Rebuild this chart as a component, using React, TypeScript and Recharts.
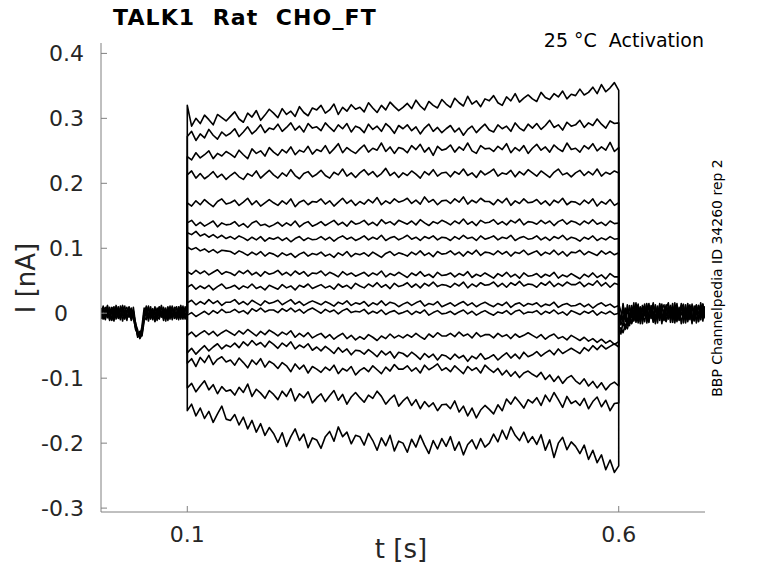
import React from 'react';
import { LineChart, Line, XAxis, YAxis } from 'recharts';

// ---- sampling times [s] ----
const preT = [0, 0.0025, 0.005, 0.0075, 0.01, 0.0125, 0.015, 0.0175, 0.02, 0.0225, 0.025, 0.0275, 0.03, 0.0325, 0.035, 0.0375, 0.04, 0.0425, 0.045, 0.0475, 0.05, 0.0525, 0.055, 0.0575, 0.06, 0.0625, 0.065, 0.0675, 0.07, 0.0725, 0.075, 0.0775, 0.08, 0.0825, 0.085, 0.0875, 0.09, 0.0925, 0.095, 0.0975, 0.1];
const postT = [0.6, 0.6025, 0.605, 0.6075, 0.61, 0.6125, 0.615, 0.6175, 0.62, 0.6225, 0.625, 0.6275, 0.63, 0.6325, 0.635, 0.6375, 0.64, 0.6425, 0.645, 0.6475, 0.65, 0.6525, 0.655, 0.6575, 0.66, 0.6625, 0.665, 0.6675, 0.67, 0.6725, 0.675, 0.6775, 0.68, 0.6825, 0.685, 0.6875, 0.69, 0.6925, 0.695, 0.6975, 0.7];
const pulseT = [0.1, 0.105, 0.11, 0.115, 0.12, 0.125, 0.13, 0.135, 0.14, 0.145, 0.15, 0.155, 0.16, 0.165, 0.17, 0.175, 0.18, 0.185, 0.19, 0.195, 0.2, 0.205, 0.21, 0.215, 0.22, 0.225, 0.23, 0.235, 0.24, 0.245, 0.25, 0.255, 0.26, 0.265, 0.27, 0.275, 0.28, 0.285, 0.29, 0.295, 0.3, 0.305, 0.31, 0.315, 0.32, 0.325, 0.33, 0.335, 0.34, 0.345, 0.35, 0.355, 0.36, 0.365, 0.37, 0.375, 0.38, 0.385, 0.39, 0.395, 0.4, 0.405, 0.41, 0.415, 0.42, 0.425, 0.43, 0.435, 0.44, 0.445, 0.45, 0.455, 0.46, 0.465, 0.47, 0.475, 0.48, 0.485, 0.49, 0.495, 0.5, 0.505, 0.51, 0.515, 0.52, 0.525, 0.53, 0.535, 0.54, 0.545, 0.55, 0.555, 0.56, 0.565, 0.57, 0.575, 0.58, 0.585, 0.59, 0.595, 0.6];

const PULSE_ON = 0.1;
const PULSE_OFF = 0.6;
const HOLD_PA = 0;

// ---- baseline current before the step [pA] ----
const preA = [3, -8, 6, -4, 9, -10, 2, 7, -6, 11, -3, -9, 5, -1, 8, -7, -22, -33, -28, -35, -12, 6, -5, 10, -8, 3, -11, 7, -2, 9, -6, 4, -9, 11, -4, 2, -10, 8, -1, 5, 0];
const preB = [-5, 7, -2, 10, -9, 4, -6, 12, -3, -8, 6, 1, -11, 8, -4, 3, -18, -29, -36, -24, -6, -10, 9, -3, 5, -12, 8, -1, 10, -7, 2, -9, 6, -3, 9, -8, 4, 12, -6, -2, 3];
const preC = [8, -3, -10, 5, 1, 9, -7, -2, 10, -5, 4, 11, -7, -3, 6, -10, -14, -37, -30, -26, 3, 9, -7, 1, -10, 7, 4, -6, 12, -4, -9, 8, 1, -7, 6, 10, -3, -9, 7, 1, -4];
const preD = [-2, 11, -6, 3, -11, 6, 10, -9, 1, 7, -12, 5, 9, -6, 2, -4, -25, -31, -38, -20, 8, -3, 11, -9, 4, -1, -7, 10, -5, 3, 8, -11, 4, 9, -8, -3, 10, -6, 3, -9, 2];
const preE = [6, -9, 1, 12, -5, -11, 8, -3, 5, -10, 9, -6, 2, 10, -8, 4, -20, -35, -32, -30, -9, 11, -2, -8, 7, -13, 2, 9, -6, 5, -12, 10, -4, 6, 1, -9, 7, -4, 11, -7, -1];
const preF = [-9, 4, 9, -7, 6, 1, -12, 5, -8, 3, 12, -4, -8, 4, -11, 9, -16, -26, -39, -33, -2, 4, -12, 6, -4, 10, -5, -9, 3, -11, 6, -3, 11, -10, 3, 7, -6, 1, -9, 10, -3];

// ---- baseline current after the step [pA] ----
const postA = [-28, -22, -30, -18, -24, -12, -16, -6, -10, 2, -8, 12, -4, 9, -12, 6, 14, -7, 3, -11, 10, -3, 13, -9, 5, -14, 8, 1, -10, 15, -5, 7, -13, 4, 11, -8, -1, 12, -6, 9, -2];
const postB = [10, -14, 15, -9, 6, -16, 12, -3, 16, -11, 4, -7, 14, -15, 1, 9, -12, 13, -5, 8, -16, 3, 11, -8, -2, 15, -12, 6, -4, 12, -15, 2, 9, -10, 14, -6, 5, -13, 16, -3, 7];
const postC = [-5, -18, -9, -21, -13, -4, -15, 5, -8, 11, -13, 7, -2, 15, -10, 3, -14, 10, -6, 13, -1, -11, 8, 16, -7, 2, -15, 11, -3, 7, 14, -9, -2, 10, -14, 6, 13, -7, 1, -12, 8];
const postD = [14, 3, -10, 8, -19, 12, -7, 16, -14, 0, 9, -16, 5, -8, 12, -4, 16, -13, 6, -9, 14, -6, -13, 4, 12, -10, 16, -5, 9, -16, 3, -8, 15, -3, -11, 8, -15, 12, 4, -7, 11];
const postE = [-20, -32, -14, -25, -8, -19, 2, -11, 7, -15, 10, -2, -13, 6, 15, -8, 2, -16, 11, -4, 7, 13, -12, 1, 9, -7, 12, -13, 4, -2, 10, -15, 6, 13, -4, -12, 9, 1, -10, 14, -5];
const postF = [2, -9, 7, -13, 13, -5, 9, -12, 3, 14, -16, 8, 11, -6, -14, 12, -3, 7, -15, 15, -9, 5, -4, 12, -14, 9, -7, 15, -11, 1, -6, 13, -10, 7, -16, 11, 2, -12, 6, 14, -8];

// ---- currents during the voltage step [pA], one array per sweep ----
const sweep1 = [320, 288, 300, 292, 305, 298, 290, 306, 301, 296, 303,
  310, 299, 294, 308, 302, 312, 297, 305, 314, 308,
  301, 315, 306, 311, 303, 318, 309, 304, 316, 313,
  320, 308, 313, 322, 306, 317, 311, 321, 314, 317,
  310, 324, 316, 309, 320, 313, 325, 318, 312, 317,
  323, 315, 328, 319, 313, 326, 320, 316, 329, 322,
  317, 331, 324, 319, 334, 322, 327, 318, 330, 327,
  335, 324, 320, 333, 327, 338, 325, 331, 336, 330,
  326, 340, 332, 329, 338, 333, 342, 330, 337, 335,
  345, 336, 340, 348, 338, 352, 341, 347, 355, 343];
const sweep2 = [272, 280, 266, 276, 270, 283, 274, 268, 279, 273, 277,
  284, 272, 279, 287, 276, 282, 290, 278, 285, 283,
  291, 280, 286, 293, 282, 288, 279, 292, 285, 287,
  281, 293, 286, 280, 290, 284, 292, 279, 288, 285,
  278, 291, 283, 288, 280, 292, 286, 277, 289, 284,
  290, 281, 287, 276, 285, 291, 280, 286, 278, 284,
  289, 279, 285, 274, 283, 288, 278, 285, 291, 282,
  279, 290, 284, 288, 280, 293, 285, 281, 291, 285,
  292, 283, 289, 297, 286, 290, 282, 294, 288, 290,
  297, 286, 293, 289, 299, 291, 285, 296, 292, 293];
const sweep3 = [241, 236, 247, 239, 244, 250, 238, 246, 242, 249, 245,
  240, 251, 244, 238, 253, 246, 250, 242, 255, 248,
  243, 252, 247, 256, 244, 251, 248, 257, 245, 252,
  249, 258, 246, 253, 261, 247, 255, 250, 246, 253,
  259, 248, 254, 251, 262, 249, 256, 246, 255, 253,
  247, 258, 252, 260, 248, 255, 243, 257, 251, 253,
  259, 248, 256, 251, 262, 250, 246, 258, 253, 254,
  249, 257, 252, 261, 247, 255, 250, 258, 246, 254,
  260, 251, 256, 248, 259, 253, 249, 262, 252, 254,
  248, 258, 253, 261, 250, 256, 251, 263, 249, 255];
const sweep4 = [213, 219, 208, 215, 207, 212, 218, 209, 214, 206, 212,
  217, 210, 206, 215, 211, 219, 208, 214, 220, 213,
  208, 216, 211, 221, 212, 207, 215, 218, 210, 214,
  220, 212, 208, 217, 213, 222, 211, 216, 209, 216,
  221, 213, 218, 210, 215, 223, 212, 217, 209, 216,
  212, 219, 214, 208, 218, 213, 221, 211, 216, 217,
  210, 218, 214, 222, 212, 216, 209, 219, 213, 217,
  222, 211, 216, 214, 220, 210, 218, 213, 221, 216,
  211, 219, 214, 209, 217, 222, 213, 216, 210, 216,
  220, 212, 218, 213, 222, 211, 217, 214, 219, 216];
const sweep5 = [170, 165, 173, 167, 175, 169, 164, 172, 176, 168, 170,
  174, 166, 171, 177, 167, 173, 165, 170, 175, 170,
  166, 173, 168, 176, 164, 171, 174, 167, 172, 171,
  176, 168, 173, 165, 171, 177, 169, 174, 166, 172,
  168, 175, 170, 178, 167, 173, 169, 176, 171, 173,
  177, 169, 174, 168, 179, 171, 175, 167, 173, 174,
  169, 176, 171, 179, 168, 174, 170, 177, 172, 172,
  167, 175, 170, 177, 166, 173, 169, 176, 170, 171,
  175, 168, 173, 166, 174, 170, 177, 167, 172, 171,
  167, 174, 169, 176, 165, 172, 168, 175, 166, 170];
const sweep6 = [139, 143, 135, 140, 134, 138, 142, 133, 139, 136, 137,
  141, 134, 138, 132, 139, 142, 135, 137, 133, 136,
  140, 134, 139, 135, 142, 133, 138, 141, 134, 137,
  141, 135, 139, 143, 136, 140, 134, 142, 137, 139,
  143, 136, 140, 135, 144, 138, 141, 136, 143, 140,
  137, 142, 136, 144, 139, 135, 141, 138, 143, 140,
  136, 142, 138, 145, 137, 141, 135, 143, 139, 140,
  144, 137, 141, 136, 143, 139, 145, 136, 141, 140,
  137, 143, 138, 142, 135, 141, 144, 137, 142, 140,
  136, 142, 138, 144, 137, 140, 135, 142, 138, 139];
const sweep7 = [124, 121, 126, 119, 122, 117, 121, 116, 120, 115, 118,
  114, 119, 116, 112, 117, 113, 118, 111, 116, 114,
  117, 112, 116, 110, 115, 118, 112, 116, 113, 114,
  118, 113, 117, 111, 116, 119, 114, 117, 112, 115,
  119, 113, 117, 114, 120, 112, 116, 118, 113, 116,
  120, 114, 117, 112, 118, 115, 119, 113, 117, 116,
  112, 118, 114, 120, 115, 117, 112, 119, 114, 116,
  119, 113, 117, 115, 120, 112, 116, 118, 114, 115,
  119, 113, 117, 112, 118, 115, 120, 113, 117, 115,
  111, 117, 114, 119, 112, 116, 113, 118, 114, 115];
const sweep8 = [102, 98, 101, 96, 99, 94, 98, 93, 97, 96, 95,
  91, 96, 93, 89, 94, 90, 95, 88, 93, 91,
  87, 93, 89, 92, 86, 91, 94, 88, 92, 90,
  94, 88, 91, 86, 93, 89, 95, 87, 92, 90,
  93, 88, 94, 90, 86, 92, 95, 89, 93, 91,
  88, 94, 90, 96, 89, 93, 87, 95, 91, 92,
  96, 90, 94, 88, 95, 91, 97, 89, 94, 93,
  90, 96, 91, 95, 88, 94, 92, 97, 90, 93,
  96, 89, 94, 91, 97, 90, 95, 88, 94, 93,
  97, 90, 95, 92, 89, 96, 91, 95, 90, 93];
const sweep9 = [64, 60, 66, 61, 65, 59, 63, 67, 60, 64, 62,
  58, 65, 61, 66, 59, 63, 57, 64, 60, 62,
  66, 59, 63, 58, 65, 60, 64, 57, 62, 61,
  65, 58, 63, 60, 56, 64, 59, 62, 57, 60,
  63, 57, 62, 59, 65, 56, 61, 58, 63, 59,
  55, 62, 58, 64, 57, 60, 55, 63, 58, 59,
  62, 56, 61, 58, 64, 55, 60, 57, 62, 58,
  54, 61, 57, 63, 56, 60, 54, 62, 57, 58,
  61, 55, 60, 57, 63, 54, 59, 56, 61, 57,
  53, 60, 56, 62, 55, 59, 53, 61, 56, 56];
const sweep10 = [40, 44, 37, 42, 38, 43, 36, 41, 45, 38, 40,
  43, 37, 42, 39, 45, 38, 41, 36, 43, 40,
  37, 44, 39, 42, 36, 43, 40, 45, 38, 41,
  44, 39, 42, 37, 45, 40, 43, 38, 46, 42,
  39, 45, 41, 47, 40, 44, 38, 46, 41, 43,
  47, 40, 45, 39, 46, 42, 48, 41, 44, 43,
  40, 46, 42, 48, 39, 45, 41, 47, 43, 44,
  48, 41, 46, 40, 47, 43, 49, 42, 45, 44,
  40, 47, 43, 49, 41, 46, 42, 48, 44, 44,
  48, 41, 46, 43, 50, 42, 47, 40, 46, 44];
const sweep11 = [16, 20, 13, 18, 14, 21, 15, 19, 12, 17, 17,
  21, 14, 18, 13, 20, 16, 12, 19, 15, 17,
  20, 13, 17, 21, 14, 18, 12, 16, 19, 16,
  13, 18, 15, 11, 17, 14, 19, 12, 16, 14,
  18, 11, 16, 13, 19, 12, 17, 15, 10, 14,
  17, 12, 16, 19, 11, 15, 13, 18, 10, 13,
  16, 11, 15, 18, 12, 16, 10, 14, 17, 13,
  10, 15, 12, 17, 9, 14, 16, 11, 15, 13,
  16, 10, 14, 12, 17, 9, 13, 15, 11, 12,
  15, 10, 14, 8, 13, 16, 11, 14, 9, 12];
const sweep12 = [-3, 1, -5, -1, 3, -2, 4, 0, 6, 1, 2,
  6, 1, 4, -1, 7, 3, 8, 2, 5, 5,
  1, 7, 3, 8, 2, 6, 0, 5, 8, 4,
  0, 6, 2, 5, -1, 4, 7, 1, 3, 2,
  6, -1, 3, 0, 5, -2, 2, 4, -1, 1,
  4, -2, 3, 0, 5, -3, 1, 4, -1, 0,
  3, -2, 2, 5, -1, 3, -3, 1, 4, 0,
  -3, 2, 0, 4, -2, 3, 5, -1, 2, 1,
  4, -2, 3, 0, 5, -1, 2, -3, 4, 1,
  -2, 3, 0, 4, -3, 2, -1, 3, -2, 0];
const sweep13 = [-34, -29, -36, -31, -27, -33, -28, -35, -30, -26, -30,
  -34, -27, -32, -25, -30, -35, -28, -33, -26, -30,
  -35, -29, -33, -27, -37, -31, -36, -30, -38, -34,
  -31, -38, -33, -40, -35, -31, -39, -34, -41, -36,
  -40, -33, -37, -42, -35, -39, -32, -38, -34, -38,
  -33, -37, -31, -36, -40, -32, -37, -30, -35, -35,
  -31, -36, -29, -35, -32, -38, -30, -36, -33, -33,
  -38, -31, -36, -33, -39, -32, -37, -34, -30, -34,
  -38, -33, -40, -35, -32, -39, -36, -41, -34, -38,
  -42, -37, -43, -39, -45, -40, -46, -42, -48, -44];
const sweep14 = [-61, -54, -63, -56, -50, -58, -52, -47, -55, -49, -52,
  -46, -53, -44, -50, -42, -49, -45, -52, -43, -48,
  -54, -46, -51, -44, -55, -49, -53, -47, -57, -52,
  -58, -51, -56, -62, -53, -60, -55, -64, -57, -58,
  -63, -56, -61, -67, -58, -64, -59, -69, -60, -62,
  -67, -60, -65, -71, -62, -68, -63, -72, -64, -66,
  -71, -63, -69, -65, -74, -66, -70, -62, -71, -68,
  -64, -72, -66, -61, -69, -63, -70, -60, -67, -64,
  -59, -66, -61, -57, -64, -55, -62, -58, -54, -58,
  -62, -53, -58, -50, -56, -49, -55, -51, -47, -52];
const sweep15 = [-77, -70, -82, -68, -76, -65, -79, -71, -67, -75, -72,
  -80, -69, -76, -84, -72, -79, -70, -83, -74, -78,
  -85, -76, -81, -90, -78, -86, -80, -92, -82, -86,
  -91, -83, -88, -80, -93, -85, -89, -82, -95, -88,
  -84, -90, -81, -87, -93, -83, -89, -79, -86, -86,
  -81, -89, -84, -92, -80, -87, -83, -78, -88, -84,
  -90, -81, -87, -93, -82, -88, -84, -92, -80, -86,
  -91, -85, -95, -88, -97, -90, -99, -92, -89, -94,
  -98, -91, -102, -95, -105, -97, -108, -100, -96, -104,
  -109, -101, -112, -105, -115, -107, -118, -110, -106, -112];
const sweep16 = [-115, -108, -121, -112, -104, -118, -110, -124, -113, -120, -118,
  -126, -114, -122, -109, -128, -117, -123, -131, -119, -125,
  -133, -120, -128, -116, -135, -124, -130, -121, -138, -130,
  -124, -136, -127, -119, -134, -125, -140, -129, -122, -130,
  -137, -126, -131, -120, -128, -140, -132, -126, -143, -135,
  -129, -142, -133, -147, -136, -144, -138, -150, -141, -140,
  -147, -135, -152, -143, -158, -146, -161, -149, -142, -148,
  -155, -141, -150, -132, -140, -129, -137, -146, -133, -138,
  -130, -142, -126, -136, -122, -133, -145, -128, -139, -135,
  -142, -131, -147, -136, -129, -144, -134, -150, -139, -138];
const sweep17 = [-150, -140, -158, -146, -162, -151, -168, -155, -143, -163, -165,
  -156, -172, -160, -178, -165, -183, -170, -188, -176, -185,
  -199, -184, -205, -190, -178, -196, -186, -207, -192, -195,
  -208, -190, -182, -197, -175, -190, -183, -201, -188, -190,
  -203, -185, -196, -211, -192, -204, -188, -212, -197, -200,
  -214, -194, -206, -188, -203, -216, -196, -209, -193, -205,
  -190, -211, -198, -218, -202, -195, -209, -193, -206, -200,
  -186, -198, -180, -194, -175, -188, -196, -183, -199, -190,
  -202, -187, -211, -195, -222, -200, -191, -210, -198, -205,
  -216, -203, -225, -211, -230, -218, -241, -226, -245, -235];

// ---- axis ticks ----
const xTicks = [0.1, 0.6];
const yTicks = [-0.3, -0.2, -0.1, 0, 0.1, 0.2, 0.3, 0.4];

// ---- assemble series (pA -> nA) ----
const toSeries = (ts: number[], vs: number[]) => ts.map((t, k) => ({ t, i: vs[k] / 1000 }));
const preSeries = [preA, preB, preC, preD, preE, preF].map((v) => toSeries(preT, v));
const postSeries = [postA, postB, postC, postD, postE, postF].map((v) => toSeries(postT, v));
const sweeps = [sweep1, sweep2, sweep3, sweep4, sweep5, sweep6, sweep7, sweep8, sweep9, sweep10, sweep11, sweep12, sweep13, sweep14, sweep15, sweep16, sweep17];
const pulseSeries = sweeps.map((v) => [
  { t: PULSE_ON, i: HOLD_PA / 1000 },
  ...toSeries(pulseT, v),
  { t: PULSE_OFF, i: HOLD_PA / 1000 },
]);

const FONT = '"DejaVu Sans", sans-serif';
const AXIS = '#808080';
const TXT = '#262626';

const fmt = (v: number) => {
  const r = Math.round(v * 10) / 10;
  return r === 0 ? '0' : String(r);
};

const YTick = (props: any) => {
  const { x, y, payload } = props;
  const label = fmt(payload.value);
  return (
    <g>
      <line x1={x} x2={x + 6} y1={y} y2={y} stroke={AXIS} strokeWidth={1} />
      <text x={label === '0' ? x - 33 : x - 17} y={y} dy="0.36em" textAnchor="end" fontFamily={FONT} fontSize={22} fill={TXT}>
        {label}
      </text>
    </g>
  );
};

const XTick = (props: any) => {
  const { x, y, payload } = props;
  return (
    <g>
      <line x1={x} x2={x} y1={y} y2={y - 6} stroke={AXIS} strokeWidth={1} />
      <text x={x} y={y + 30} textAnchor="middle" fontFamily={FONT} fontSize={22} fill={TXT}>
        {fmt(payload.value)}
      </text>
    </g>
  );
};

const lineProps = {
  type: 'linear' as const,
  dataKey: 'i',
  stroke: '#000',
  strokeWidth: 1.6,
  dot: false,
  activeDot: false,
  isAnimationActive: false,
  strokeLinejoin: 'round' as const,
};

export default function App() {
  return (
    <div style={{ position: 'absolute', left: 0, top: 0, width: 778, height: 583, background: '#fff' }}>
      <LineChart width={778} height={583} margin={{ top: 43, right: 73, bottom: 0, left: 0 }}>
        <XAxis
          dataKey="t"
          type="number"
          domain={[0, 0.7]}
          allowDataOverflow
          ticks={xTicks}
          tick={<XTick />}
          tickLine={false}
          tickSize={0}
          tickMargin={0}
          height={71}
          axisLine={{ stroke: AXIS, strokeWidth: 1 }}
          interval={0}
        />
        <YAxis
          dataKey="i"
          type="number"
          domain={[-0.306, 0.416]}
          allowDataOverflow
          ticks={yTicks}
          tick={<YTick />}
          tickLine={false}
          tickSize={0}
          tickMargin={0}
          width={101}
          axisLine={{ stroke: AXIS, strokeWidth: 1 }}
          interval={0}
        />
        {preSeries.map((d, k) => (
          <Line key={'pre' + k} data={d} {...lineProps} />
        ))}
        {postSeries.map((d, k) => (
          <Line key={'post' + k} data={d} {...lineProps} />
        ))}
        {pulseSeries.map((d, k) => (
          <Line key={'sw' + k} data={d} {...lineProps} />
        ))}
      </LineChart>
      <svg width={778} height={583} style={{ position: 'absolute', left: 0, top: 0, pointerEvents: 'none' }}>
        <text x={113} y={25} fontFamily={FONT} fontSize={22} fontWeight="bold" fill="#000" letterSpacing={1.1} style={{ whiteSpace: 'pre' }}>
          {'TALK1  Rat  CHO_FT'}
        </text>
        <text x={704} y={47} textAnchor="end" fontFamily={FONT} fontSize={19} fill="#000" style={{ whiteSpace: 'pre' }}>
          {'25 °C  Activation'}
        </text>
        <text x={401} y={558} textAnchor="middle" fontFamily={FONT} fontSize={26} fill={TXT}>
          t [s]
        </text>
        <text x={35} y={278} textAnchor="middle" fontFamily={FONT} fontSize={26} fill={TXT} transform="rotate(-90 35 278)">
          I [nA]
        </text>
        <text x={722} y={278} textAnchor="middle" fontFamily={FONT} fontSize={14} fill="#000" transform="rotate(-90 722 278)">
          BBP Channelpedia ID 34260 rep 2
        </text>
      </svg>
    </div>
  );
}
